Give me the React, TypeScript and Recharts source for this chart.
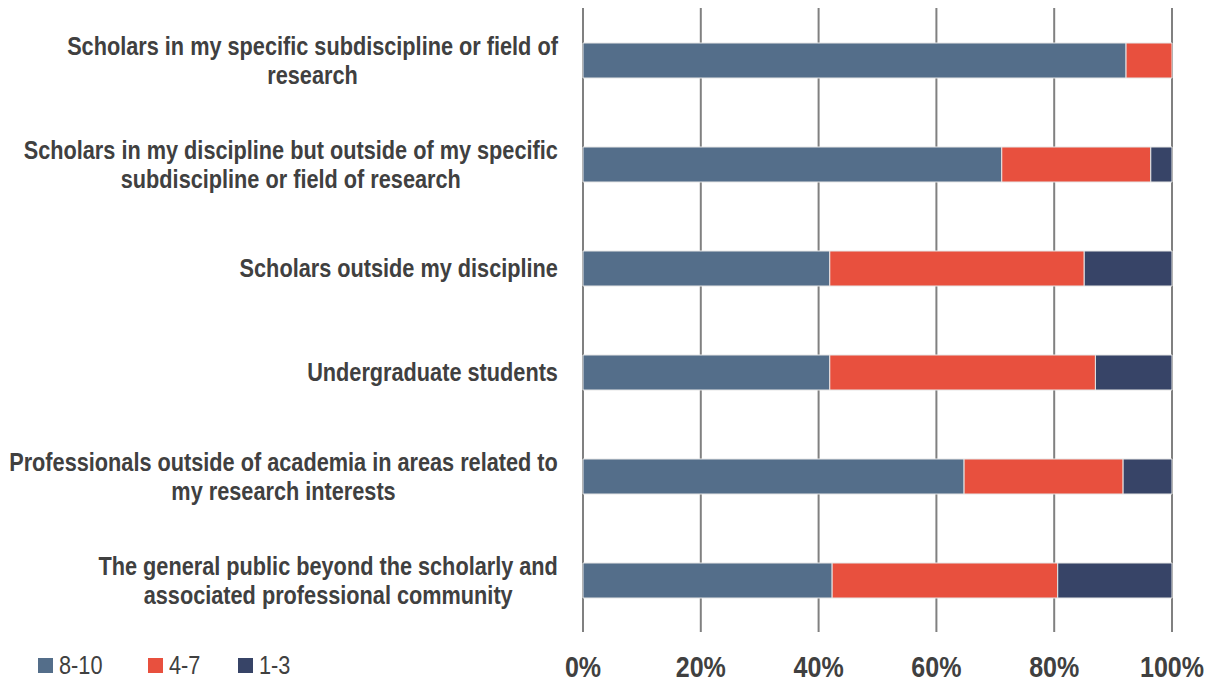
import React from "react";
import { BarChart, Bar, XAxis, YAxis, CartesianGrid } from "recharts";

// audience groups (line breaks as in the original labels)
const categories = [
  "Scholars in my specific subdiscipline or field of\nresearch",
  "Scholars in my discipline but outside of my specific\nsubdiscipline or field of research",
  "Scholars outside my discipline",
  "Undergraduate students",
  "Professionals outside of academia in areas related to\nmy research interests",
  "The general public beyond the scholarly and\nassociated professional community",
];

// share of respondents (%) per rating band
const high = [92.2, 71.1, 41.9, 41.9, 64.7, 42.3];
const mid = [7.8, 25.3, 43.2, 45.1, 27.0, 38.3];
const low = [0, 3.6, 14.9, 13.0, 8.3, 19.4];

const xTicks = [0, 20, 40, 60, 80, 100];

const seriesNames = ["8-10", "4-7", "1-3"];
const colors = ["#546e8a", "#e8503e", "#374467"];

const data = categories.map((name, i) => ({
  name,
  high: high[i],
  mid: mid[i],
  low: low[i],
}));

const TEXT = "#404040";
const FAMILY = "'Liberation Sans', Arial, sans-serif";
const LABEL_FONT = `bold 26px ${FAMILY}`;
const SQUEEZE = 0.835; // narrow look of the original font

let ctx: CanvasRenderingContext2D | null = null;
const measure = (s: string) => {
  if (!ctx) ctx = document.createElement("canvas").getContext("2d");
  if (!ctx) return s.length * 11;
  ctx.font = LABEL_FONT;
  return ctx.measureText(s).width * SQUEEZE;
};

const CategoryTick = (props: any) => {
  const { y, payload } = props;
  const lines: string[] = String(payload.value).split("\n");
  const w = Math.max(...lines.map(measure));
  const cx = 558 - w / 2;
  const lh = 29;
  const startY = y - ((lines.length - 1) * lh) / 2;
  return (
    <g transform={`translate(${cx},${startY}) scale(${SQUEEZE},1)`}>
      <text x={0} y={0} textAnchor="middle" fill={TEXT} style={{ font: LABEL_FONT }}>
        {lines.map((l, i) => (
          <tspan key={i} x={0} y={i * lh} dy="0.35em">
            {l}
          </tspan>
        ))}
      </text>
    </g>
  );
};

const PercentTick = (props: any) => {
  const { x, y, payload } = props;
  return (
    <g transform={`translate(${x},${y + 37}) scale(${SQUEEZE},1)`}>
      <text x={0} y={0} textAnchor="middle" fill={TEXT} style={{ font: `bold 30px ${FAMILY}` }}>
        {payload.value}%
      </text>
    </g>
  );
};

const App = () => {
  return (
    <div style={{ position: "absolute", left: 0, top: 0, width: 1211, height: 683, background: "#fff" }}>
      <BarChart
        width={1211}
        height={683}
        data={data}
        layout="vertical"
        margin={{ top: 8, right: 39, bottom: 21, left: 0 }}
        barCategoryGap={0}
      >
        <CartesianGrid horizontal={false} stroke="#808080" strokeWidth={2} />
        <XAxis
          type="number"
          domain={[0, 100]}
          ticks={xTicks}
          height={30}
          axisLine={false}
          tickLine={false}
          tick={<PercentTick />}
          interval={0}
        />
        <YAxis
          type="category"
          dataKey="name"
          width={583}
          axisLine={false}
          tickLine={false}
          tick={<CategoryTick />}
          interval={0}
        />
        <Bar dataKey="high" name={seriesNames[0]} stackId="a" fill={colors[0]} barSize={35} stroke="#e6e6e6" strokeWidth={1} isAnimationActive={false} />
        <Bar dataKey="mid" name={seriesNames[1]} stackId="a" fill={colors[1]} barSize={35} stroke="#e6e6e6" strokeWidth={1} isAnimationActive={false} />
        <Bar dataKey="low" name={seriesNames[2]} stackId="a" fill={colors[2]} barSize={35} stroke="#e6e6e6" strokeWidth={1} isAnimationActive={false} />
      </BarChart>
      <div
        style={{
          position: "absolute",
          left: 38,
          top: 650,
          display: "flex",
          alignItems: "center",
          font: `26px ${FAMILY}`,
          color: TEXT,
        }}
      >
        {seriesNames.map((n, i) => (
          <div key={n} style={{ display: "flex", alignItems: "center", width: i === 0 ? 110 : 90 }}>
            <span style={{ display: "inline-block", width: 15, height: 15, background: colors[i], marginRight: 6 }} />
            <span style={{ display: "inline-block", transform: `scaleX(${SQUEEZE})`, transformOrigin: "left center" }}>{n}</span>
          </div>
        ))}
      </div>
    </div>
  );
};

export default App;
